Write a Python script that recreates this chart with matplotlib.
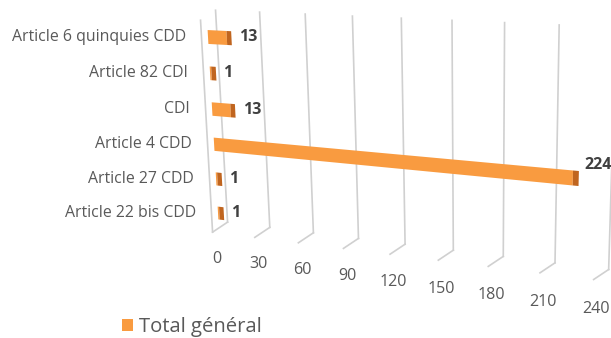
import numpy as np
import matplotlib
matplotlib.use('Agg')
import matplotlib.pyplot as plt
import matplotlib.transforms as mtransforms
from matplotlib.lines import Line2D

# ---- data ----
categories = ['Article 22 bis CDD', 'Article 27 CDD', 'Article 4 CDD',
              'CDI', 'Article 82 CDI', 'Article 6 quinquies CDD']
values = [1, 1, 224, 13, 1, 13]
ticks = [0, 30, 60, 90, 120, 150, 180, 210, 240]
series_name = 'Total général'

plt.rcParams['font.family'] = ['Open Sans', 'DejaVu Sans']

W, H = 611, 338
fig = plt.figure(figsize=(W / 100, H / 100), dpi=100)
ax = fig.add_axes([0, 0, 1, 1])
XMIN, XMAX = 0, 240
YMIN, YMAX = -0.6, 5.6


class Projection(mtransforms.Transform):
    """Perspective (homography) from axes-fraction space to display pixels."""
    input_dims = output_dims = 2
    is_separable = False

    def __init__(self, M):
        super().__init__()
        self.M = M

    def transform_non_affine(self, values):
        v = np.atleast_2d(np.asarray(values, float))
        p = np.column_stack([v, np.ones(len(v))]) @ self.M.T
        return p[:, :2] / p[:, 2:3]


def homography(src, dst):
    A, b = [], []
    for (x, y), (X, Y) in zip(src, dst):
        A.append([x, y, 1, 0, 0, 0, -X * x, -X * y]); b.append(X)
        A.append([0, 0, 0, x, y, 1, -Y * x, -Y * y]); b.append(Y)
    h = np.linalg.solve(np.array(A, float), np.array(b, float))
    return np.append(h, 1).reshape(3, 3)


# perspective frame: (value, row) anchor points -> image pixels
anchors_data = [(0, 5), (0, 0), (240, 5), (240, 0)]
anchors_img = [(208, 37), (218, 213), (606, 58), (600, 259)]
src = [((v - XMIN) / (XMAX - XMIN), (c - YMIN) / (YMAX - YMIN)) for v, c in anchors_data]
dst = [(x, H - y) for x, y in anchors_img]
proj = ax.transScale + ax.transLimits + Projection(homography(src, dst))


def shifted(dx, dy):
    return proj + mtransforms.Affine2D().translate(dx, dy)


front_color = '#F99B40'
cap_color = '#C0651F'
grid_color = '#D0D0D0'
text_color = '#595959'
label_color = '#404040'

rows = np.arange(len(categories))
bars = ax.barh(rows, values, height=0.38, color=front_color, transform=proj, zorder=3)
ax.barh(rows, [3.2] * len(rows), left=values, height=0.38, color=cap_color,
        transform=proj, zorder=3)
ax.set_xlim(XMIN, XMAX)
ax.set_ylim(YMIN, YMAX)
ax.axis('off')

# back-wall gridlines, floor segments and front edge
back = shifted(9, 1)
front = shifted(-6, -9)
for t in ticks:
    ax.add_line(Line2D([t, t], [-0.3, 5.7], transform=back, color=grid_color, lw=1.2, zorder=1))
    pb = back.transform((t, -0.3))
    pf = front.transform((t, -0.3))
    ax.add_line(Line2D([pb[0], pf[0]], [pb[1], pf[1]], transform=mtransforms.IdentityTransform(),
                       color=grid_color, lw=1.2, zorder=1))
ax.add_line(Line2D([ticks[0], ticks[0]], [-0.3, 5.7], transform=front, color=grid_color, lw=1.2, zorder=1))

# value-axis labels
for t in ticks:
    ax.text(t, -1.0, str(t), transform=shifted(-3, -12), ha='center', va='center',
            fontsize=11.6, color=text_color)

# category labels
for c, name in zip(rows, categories):
    ax.text(0, c, name, transform=shifted(-22, 0), ha='right', va='center',
            fontsize=11.4, color=text_color)

# data labels
for c, v in zip(rows, values):
    ax.text(v, c, str(v), transform=shifted(12, 0.06 * v), ha='left', va='center',
            fontsize=11.5, fontweight='bold', color=label_color)

fig.legend(handles=[bars], labels=[series_name], loc='center',
           bbox_to_anchor=(192 / W, 11 / H), frameon=False, fontsize=14.6,
           handlelength=0.55, handleheight=0.55, handletextpad=0.3, labelcolor=text_color)

fig.savefig('out.png', dpi=100)
